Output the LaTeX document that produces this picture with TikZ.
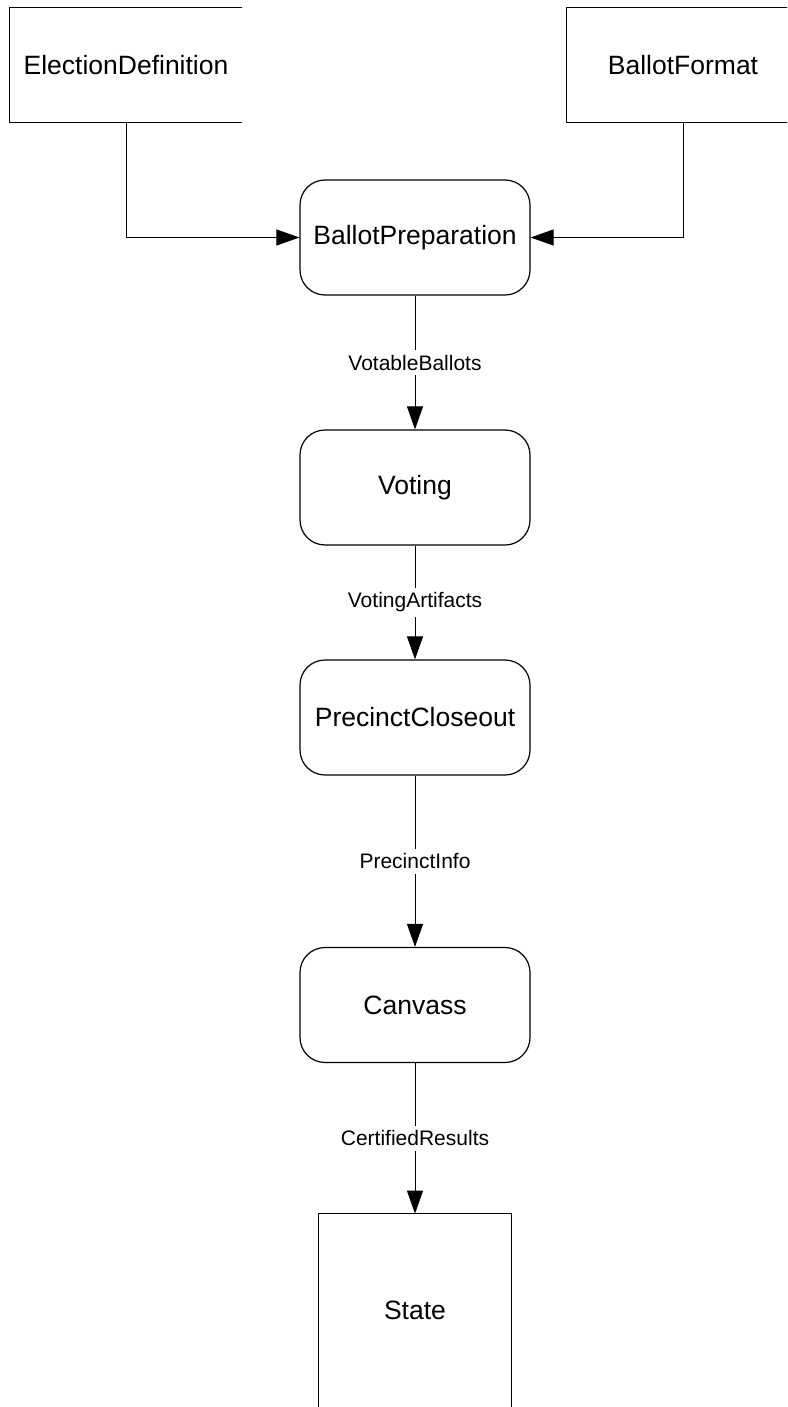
\documentclass[tikz,border=0pt]{standalone}
\usepackage{fontspec}
\setmainfont{Liberation Sans}
\usetikzlibrary{arrows.meta, positioning}
\tikzset{
    process/.style={draw, rounded corners=12.5pt, line width=0.6pt, minimum width=115pt, minimum height=57.5pt, font=\fontsize{13.25}{15}\selectfont},
    source/.style={minimum width=116pt, minimum height=57pt, font=\fontsize{13.25}{15}\selectfont},
    openbox/.style={line width=0.6pt},
    flow/.style={-{Triangle[length=11.5pt, width=8pt]}, line width=0.5pt},
    flowlabel/.style={fill=white, inner sep=2.5pt, font=\fontsize{10.5}{12}\selectfont}
}
\begin{document}
\begin{tikzpicture}[x=0.5pt, y=-0.5pt]
    \useasboundingbox (0,0) rectangle (787,1407);
    \clip (0,0) rectangle (787,1407);
    % outside sources and sink
    \node[source] (def) at (126,65) {ElectionDefinition};
    \node[source] (fmt) at (683,65) {BallotFormat};
    \node[source, minimum width=96pt, minimum height=96.5pt] (state) at (415,1310.5) {State};
    \draw[openbox] (def.north east) -- (def.north west) -- (def.south west) -- (def.south east);
    \draw[openbox] (fmt.north east) -- (fmt.north west) -- (fmt.south west) -- (fmt.south east);
    \draw[openbox] (state.south west) -- (state.north west) -- (state.north east) -- (state.south east);
    % processes
    \node[process] (prep) at (415,237.5) {BallotPreparation};
    \node[process] (vote) at (415,487.5) {Voting};
    \node[process] (close) at (415,717.5) {PrecinctCloseout};
    \node[process] (canvass) at (415,1005) {Canvass};
    % flows
    \draw[flow] (def.south) |- (prep.west);
    \draw[flow] (fmt.south) |- (prep.east);
    \draw[flow] (prep) -- node[flowlabel] {VotableBallots} (vote);
    \draw[flow] (vote) -- node[flowlabel] {VotingArtifacts} (close);
    \draw[flow] (close) -- node[flowlabel] {PrecinctInfo} (canvass);
    \draw[flow] (canvass) -- node[flowlabel] {CertifiedResults} (state);
\end{tikzpicture}
\end{document}
